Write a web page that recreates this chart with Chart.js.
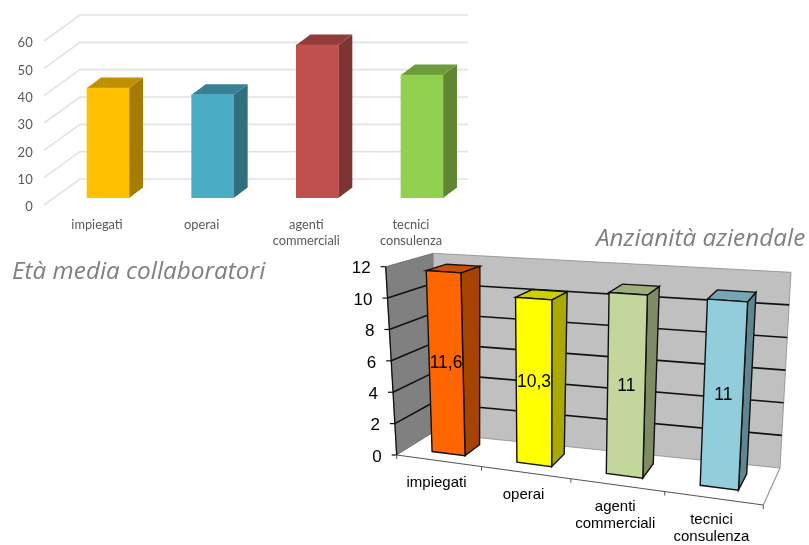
<!DOCTYPE html>
<html>
<head>
<meta charset="utf-8">
<script src="https://cdn.jsdelivr.net/npm/chart.js@4"></script>
<style>
    html, body { margin: 0; padding: 0; background: #fff; width: 809px; height: 545px; overflow: hidden; }
    canvas { position: absolute; display: block; }
    #age-chart { left: 0; top: 0; }
    #tenure-chart { left: 340px; top: 245px; }
    .title { position: absolute; font-family: "Open Sans", sans-serif; font-style: italic; font-size: 24.3px; color: #7f7f7f; white-space: nowrap; line-height: 30px; }
    #age-title { left: 12px; top: 255px; }
    #tenure-title { left: 596px; top: 222px; }
</style>
</head>
<body>
<canvas id="age-chart" width="480" height="255"></canvas>
<canvas id="tenure-chart" width="469" height="300"></canvas>
<div class="title" id="age-title">Età media collaboratori</div>
<div class="title" id="tenure-title">Anzianità aziendale</div>
<script>
// Data
const categories = ['impiegati', 'operai', 'agenti commerciali', 'tecnici consulenza'];
const ageValues = [40.2, 37.8, 56, 45];
const tenureValues = [11.6, 10.3, 11, 11];
const ageTicks = [0, 10, 20, 30, 40, 50, 60];
const tenureTicks = [0, 2, 4, 6, 8, 10, 12];

// Colours: front, side, top
const ageColors = [
    ['#ffc000', '#a67c00', '#bf9000'],
    ['#4bacc6', '#316f80', '#388195'],
    ['#c0504d', '#7d3432', '#913c3a'],
    ['#92d050', '#5f8731', '#6d9c3c']
];
const tenureColors = [
    ['#ff6600', '#a64300', '#c85000'],
    ['#ffff00', '#a9a900', '#cfcf00'],
    ['#c3d69b', '#7f8b65', '#9eae7d'],
    ['#92cddc', '#5f8590', '#76a6b3']
];

const splitLabel = s => s.split(' ');

// Age chart: pseudo 3D frame around normal bars
const DEPTH_X = 14, DEPTH_Y = 10.5;
const age3d = {
    id: 'age3d',
    beforeDatasetsDraw(chart) {
        const ctx = chart.ctx, y = chart.scales.y;
        ctx.save();
        ctx.strokeStyle = '#e3e3e3';
        ctx.lineWidth = 1.6;
        y.ticks.forEach(t => {
            const py = y.getPixelForValue(t.value);
            ctx.beginPath();
            ctx.moveTo(44, py + 7);
            ctx.lineTo(80, py - 19);
            ctx.lineTo(468, py - 19);
            ctx.stroke();
        });
        chart.getDatasetMeta(0).data.forEach((bar, i) => {
            const r = bar.x + bar.width / 2, l = bar.x - bar.width / 2;
            ctx.fillStyle = ageColors[i][1];
            ctx.beginPath();
            ctx.moveTo(r, bar.base);
            ctx.lineTo(r + DEPTH_X, bar.base - DEPTH_Y);
            ctx.lineTo(r + DEPTH_X, bar.y - DEPTH_Y);
            ctx.lineTo(r, bar.y);
            ctx.fill();
            ctx.fillStyle = ageColors[i][2];
            ctx.beginPath();
            ctx.moveTo(l, bar.y);
            ctx.lineTo(l + DEPTH_X, bar.y - DEPTH_Y);
            ctx.lineTo(r + DEPTH_X, bar.y - DEPTH_Y);
            ctx.lineTo(r, bar.y);
            ctx.fill();
        });
        ctx.restore();
    }
};

new Chart(document.getElementById('age-chart'), {
    type: 'bar',
    data: {
        labels: categories.map(splitLabel),
        datasets: [{
            data: ageValues,
            backgroundColor: ageColors.map(c => c[0]),
            barThickness: 42
        }]
    },
    options: {
        responsive: false,
        animation: false,
        layout: { autoPadding: false, padding: { top: 34, right: 5.7 } },
        plugins: { legend: { display: false }, tooltip: { enabled: false } },
        scales: {
            x: {
                afterFit: s => { s.height = 57; },
                grid: { display: false },
                border: { display: false },
                ticks: {
                    autoSkip: false, maxRotation: 0, labelOffset: -11, padding: 11,
                    color: '#595959', font: { family: 'Lato', size: 12.8, lineHeight: '16px' }
                }
            },
            y: {
                min: 0, max: 60,
                afterFit: s => { s.width = 55.7; },
                afterBuildTicks: s => { s.ticks = ageTicks.map(v => ({ value: v })); },
                grid: { display: false },
                border: { display: false },
                ticks: {
                    labelOffset: 9, padding: 15,
                    color: '#595959', font: { family: 'Lato', size: 13 }
                }
            }
        }
    },
    plugins: [age3d]
});

// Tenure chart: scale positions are projected on a perspective box
const BOX = {
    frontBottomLeft: [396.7, 455], frontBottomRight: [763.3, 505],
    frontTopLeft: [385.7, 266.7], frontTopRight: [775, 293],
    backBottomLeft: [432, 433], backBottomRight: [780, 468],
    backTopLeft: [433.3, 253.3], backTopRight: [791, 272.3]
};
const BAR_FRONT = 0.3, BAR_BACK = 0.75;
const lerp = (a, b, t) => [a[0] + (b[0] - a[0]) * t, a[1] + (b[1] - a[1]) * t];

function project(u, v, w) {
    const uu = u * (0.9 + 0.1 * u); // right side is closer to the viewer
    const fb = lerp(BOX.frontBottomLeft, BOX.frontBottomRight, uu);
    const ft = lerp(BOX.frontTopLeft, BOX.frontTopRight, uu);
    const bb = lerp(BOX.backBottomLeft, BOX.backBottomRight, uu);
    const bt = lerp(BOX.backTopLeft, BOX.backTopRight, uu);
    return lerp(lerp(fb, ft, v), lerp(bb, bt, v), w);
}

function poly(ctx, pts, fill, stroke, lineWidth) {
    ctx.beginPath();
    pts.forEach((p, i) => i ? ctx.lineTo(p[0], p[1]) : ctx.moveTo(p[0], p[1]));
    ctx.closePath();
    if (fill) { ctx.fillStyle = fill; ctx.fill(); }
    if (stroke) { ctx.strokeStyle = stroke; ctx.lineWidth = lineWidth || 1; ctx.stroke(); }
}

function line(ctx, a, b, color, width) {
    ctx.beginPath();
    ctx.moveTo(a[0], a[1]);
    ctx.lineTo(b[0], b[1]);
    ctx.strokeStyle = color;
    ctx.lineWidth = width;
    ctx.stroke();
}

const tenure3d = {
    id: 'tenure3d',
    afterDatasetsDraw(chart) {
        const ctx = chart.ctx, area = chart.chartArea, yScale = chart.scales.y;
        const toU = px => (px - area.left) / (area.right - area.left);
        const toV = val => (yScale.bottom - yScale.getPixelForValue(val)) / (yScale.bottom - yScale.top);
        ctx.save();
        ctx.translate(-340, -245);

        // walls and floor
        poly(ctx, [project(0, 0, 0), project(0, 1, 0), project(0, 1, 1), project(0, 0, 1)], '#808080', '#666', 0.8);
        poly(ctx, [project(0, 0, 1), project(0, 1, 1), project(1, 1, 1), project(1, 0, 1)], '#c0c0c0', '#8c8c8c', 0.8);
        line(ctx, project(0, 0, 0), project(1, 0, 0), '#555', 1.2);
        line(ctx, project(1, 0, 0), project(1, 0, 1), '#999', 1.2);
        line(ctx, project(0, 0, 0), project(0, 1, 0), '#111', 1.3);

        // grid and value axis
        ctx.textAlign = 'right';
        ctx.textBaseline = 'middle';
        yScale.ticks.forEach(t => {
            const v = toV(t.value), front = project(0, v, 0);
            if (t.value > 0 && t.value < 12) {
                line(ctx, front, project(0, v, 1), '#111', 1.6);
                line(ctx, project(0, v, 1), project(1, v, 1), '#111', 1.6);
            }
            line(ctx, front, [front[0] - 5, front[1]], '#111', 1.2);
            ctx.fillStyle = '#000';
            ctx.font = '17px "Liberation Sans"';
            ctx.fillText(t.label, front[0] - 15, front[1] + 2);
        });

        // category ticks and labels
        ctx.textAlign = 'center';
        [0, 0.25, 0.5, 0.75, 1].forEach(u => {
            const p = project(u, 0, 0);
            line(ctx, p, [p[0], p[1] + 4], '#555', 1);
        });
        categories.forEach((name, i) => {
            const p = project(toU(chart.scales.x.getPixelForValue(i)), 0, 0);
            ctx.fillStyle = '#000';
            ctx.font = '15px "Liberation Sans"';
            splitLabel(name).forEach((part, n) => ctx.fillText(part, p[0] - 2, p[1] + 22 + n * 17));
        });

        // bars
        chart.getDatasetMeta(0).data.forEach((bar, i) => {
            const l = toU(bar.x - bar.width / 2), r = toU(bar.x + bar.width / 2);
            const top = toV(tenureValues[i]);
            const fbl = project(l, 0, BAR_FRONT), fbr = project(r, 0, BAR_FRONT);
            const ftl = project(l, top, BAR_FRONT), ftr = project(r, top, BAR_FRONT);
            const bbr = project(r, 0, BAR_BACK), btr = project(r, top, BAR_BACK), btl = project(l, top, BAR_BACK);
            poly(ctx, [fbr, ftr, btr, bbr], tenureColors[i][1], '#111', 1.4);
            poly(ctx, [ftl, ftr, btr, btl], tenureColors[i][2], '#111', 1.4);
            poly(ctx, [fbl, ftl, ftr, fbr], tenureColors[i][0], '#111', 1.4);
            const mid = lerp(lerp(fbl, fbr, 0.5), lerp(ftl, ftr, 0.5), 0.5);
            ctx.fillStyle = '#000';
            ctx.font = '17.5px "Liberation Sans"';
            ctx.fillText(String(tenureValues[i]).replace('.', ','), mid[0], mid[1] + 1);
        });
        ctx.restore();
    }
};

new Chart(document.getElementById('tenure-chart'), {
    type: 'bar',
    data: {
        labels: categories,
        datasets: [{
            data: tenureValues,
            backgroundColor: 'transparent',
            categoryPercentage: 1,
            barPercentage: 0.395
        }]
    },
    options: {
        responsive: false,
        animation: false,
        layout: { autoPadding: false },
        plugins: { legend: { display: false }, tooltip: { enabled: false } },
        scales: {
            x: { display: false },
            y: {
                display: false, min: 0, max: 12,
                afterBuildTicks: s => { s.ticks = tenureTicks.map(v => ({ value: v })); }
            }
        }
    },
    plugins: [tenure3d]
});
</script>
</body>
</html>
